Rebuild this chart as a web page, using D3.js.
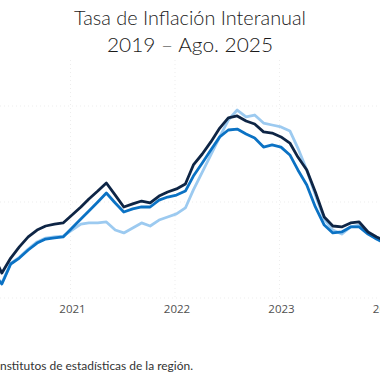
<!DOCTYPE html>
<html><head><meta charset="utf-8">
<script src="https://cdn.jsdelivr.net/npm/d3@7"></script>
<style>
html,body{margin:0;padding:0;background:#fff;overflow:hidden}
svg{display:block}
</style></head>
<body>
<script>
// Months shown: Apr 2020 .. Jan 2024 (chart is cropped on both sides)
const startYear = 2020, startMonth = 3; // April 2020 (0-based month)
const seriesDark = [2.24,1.30,2.08,2.66,3.18,3.54,3.75,3.85,3.91,
  4.32,4.74,5.16,5.57,5.99,5.36,4.74,4.90,5.05,4.95,5.31,5.52,
  5.68,5.94,6.93,7.50,8.13,8.85,9.38,9.48,9.22,9.06,8.65,8.59,
  8.39,8.07,7.34,6.67,5.52,4.22,3.75,3.70,3.91,3.96,3.44,3.18,
  2.97];
const seriesMid = [1.25,0.73,1.77,2.08,2.50,2.86,3.07,3.13,3.18,
  3.65,4.11,4.53,5.00,5.47,4.95,4.48,4.64,4.74,4.74,5.10,5.26,
  5.36,5.57,6.35,7.03,7.71,8.39,8.75,8.80,8.54,8.33,7.86,7.97,
  7.86,7.45,6.67,5.89,4.74,3.80,3.39,3.44,3.70,3.70,3.33,3.07,
  2.86];
const seriesLight = [1.30,0.78,1.80,2.12,2.55,2.92,3.12,3.18,3.22,
  3.54,3.85,3.91,3.91,3.96,3.54,3.39,3.65,3.91,3.75,4.06,4.22,
  4.38,4.69,5.63,6.56,7.45,8.39,9.27,9.79,9.43,9.53,9.11,9.01,
  8.91,8.70,7.81,6.67,5.36,4.11,3.54,3.33,3.70,3.80,3.39,3.07,
  2.81];
const gridValues = [0,5,10];
const tickYears = [2021,2022,2023,2024];
const titleLines = ["Tasa de Inflación Interanual","2019 – Ago. 2025"];
const footPrefix = "Fuente: I";
const footRest = "nstitutos de estadísticas de la región.";

const W = 380, H = 380;
const svg = d3.select("body").append("svg").attr("width",W).attr("height",H);

const dates = seriesDark.map((_,i)=>new Date(startYear, startMonth+i, 1));
const x = d3.scaleTime().domain([new Date(2021,0,1), new Date(2024,0,1)]).range([72, 385.5]);
const y = d3.scaleLinear().domain([0,10]).range([298,106]);

// gridlines (very faint, dotted)
const grid = svg.append("g");
grid.selectAll("line.h").data(gridValues).join("line")
  .attr("x1",0).attr("x2",W).attr("y1",d=>y(d)).attr("y2",d=>y(d))
  .attr("stroke","#ededed").attr("stroke-width",1).attr("stroke-dasharray","1,3");
grid.selectAll("line.v").data(tickYears).join("line")
  .attr("x1",d=>x(new Date(d,0,1))-1.5).attr("x2",d=>x(new Date(d,0,1))-1.5)
  .attr("y1",60).attr("y2",298)
  .attr("stroke","#ededed").attr("stroke-width",1).attr("stroke-dasharray","1,3");

// x axis labels
const xAxis = d3.axisBottom(x).tickValues(tickYears.map(t=>new Date(t,0,1)))
  .tickFormat(d3.timeFormat("%Y")).tickSize(0).tickPadding(0);
const ax = svg.append("g").attr("transform","translate(0,298)").call(xAxis);
ax.select(".domain").remove();
ax.selectAll("text").attr("dy","15px").attr("font-family","'Open Sans', sans-serif")
  .attr("font-size","11.5px").attr("fill","#505050");

// lines
const line = d3.line().x((d,i)=>x(dates[i])).y(d=>y(d));
const defs = [
  {data:seriesLight, color:"#9ccaf0", w:2.8},
  {data:seriesMid, color:"#0b72c4", w:2.8},
  {data:seriesDark, color:"#0e2545", w:2.8}
];
svg.append("g").selectAll("path").data(defs).join("path")
  .attr("d",d=>line(d.data)).attr("fill","none")
  .attr("stroke",d=>d.color).attr("stroke-width",d=>d.w)
  .attr("stroke-linejoin","round").attr("stroke-linecap","round");

// title
const tg = svg.append("g");
const targetW = [232, 166];
titleLines.forEach((t,i)=>{
  const el = tg.append("text").attr("x",190).attr("y",i===0?25:52)
    .attr("text-anchor","middle").attr("font-family","Lato, sans-serif")
    .attr("font-weight",300).attr("font-size","20px").attr("fill","#1a1a1a").text(t);
  el.attr("textLength",targetW[i]).attr("lengthAdjust","spacingAndGlyphs");
});

// footnote: visible part "nstitutos ... región." spans x 0..193
const ft = svg.append("text").attr("font-family","Lato, sans-serif").attr("font-size","10.5px")
  .attr("fill","#333");
const probe = svg.append("text").attr("font-family","Lato, sans-serif").attr("font-size","10.5px").text(footRest);
const restW = probe.node().getComputedTextLength();
probe.text(footPrefix + footRest);
const fullW = probe.node().getComputedTextLength();
probe.remove();
const s = 193 / restW;
ft.attr("x",193).attr("y",370).attr("text-anchor","end")
  .attr("textLength",fullW*s).attr("lengthAdjust","spacingAndGlyphs")
  .text(footPrefix + footRest);
</script>
</body></html>
